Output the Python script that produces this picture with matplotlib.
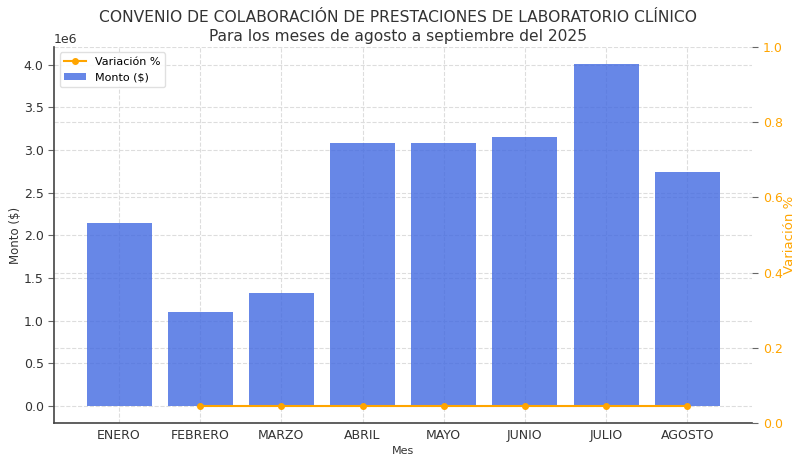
import matplotlib
matplotlib.use("Agg")
import matplotlib.pyplot as plt
import numpy as np

meses = ["ENERO", "FEBRERO", "MARZO", "ABRIL", "MAYO", "JUNIO", "JULIO", "AGOSTO"]
monto = [2150000, 1105000, 1330000, 3085000, 3085000, 3150000, 4010000, 2740000]
variacion = [np.nan, 0.0, 0.0, 0.0, 0.0, 0.0, 0.0, 0.0]

fig = plt.figure(figsize=(7.96, 4.55), dpi=100)
ax = fig.add_axes([0.068, 0.07, 0.877, 0.827])
x = np.arange(len(meses))
bars = ax.bar(x, monto, width=0.8, color="royalblue", alpha=0.8, label="Monto ($)", zorder=2)
line, = ax.plot(x, variacion, color="orange", marker="o", markersize=4, linewidth=1.5, label="Variación %", zorder=3)
ymax = max(monto)
ax.set_ylim(-0.05 * ymax, 1.05 * ymax)
ax.set_xlim(-0.8, len(meses) - 0.2)
ax.set_xticks(x)
ax.set_xticklabels(meses, fontsize=9, color="#333333")
ax.tick_params(axis="x", length=0, pad=4)
ax.tick_params(axis="y", labelsize=9, colors="#333333", color="#666666", length=4)
ax.set_xlabel("Mes", fontsize=8, color="#333333", labelpad=3)
ax.set_ylabel("Monto ($)", fontsize=8.5, color="#333333", labelpad=1)
ax.yaxis.get_offset_text().set_fontsize(9)
ax.yaxis.get_offset_text().set_color("#333333")
ax.grid(True, linestyle="--", color="#dddddd", linewidth=0.8, zorder=0)
ax.set_axisbelow(True)
for s in ["top", "right"]:
    ax.spines[s].set_visible(False)
ax.spines["left"].set_color("#444444")
ax.spines["bottom"].set_color("#444444")
ax.spines["left"].set_linewidth(1.2)
ax.spines["bottom"].set_linewidth(1.2)

ax2 = ax.twinx()
ax2.set_ylim(0, 1.0)
ax2.set_ylabel("Variación %", fontsize=9.5, color="orange", labelpad=0)
ax2.tick_params(axis="y", labelsize=9, labelcolor="orange", color="#666666", length=4)
ax2.grid(True, axis="y", linestyle="--", color="#dddddd", linewidth=0.8)
for s in ["top", "right", "left", "bottom"]:
    ax2.spines[s].set_visible(False)
ax.set_zorder(ax2.get_zorder() + 1)
ax.patch.set_visible(False)

leg = ax.legend(handles=[line, bars], loc="upper left", fontsize=8, framealpha=0.9, edgecolor="#dddddd")

fig.text(0.5, 0.977, "CONVENIO DE COLABORACIÓN DE PRESTACIONES DE LABORATORIO CLÍNICO\nPara los meses de agosto a septiembre del 2025",
         fontsize=11.2, color="#333333", ha="center", va="top", linespacing=1.3)
fig.savefig("out.png", dpi=100)
